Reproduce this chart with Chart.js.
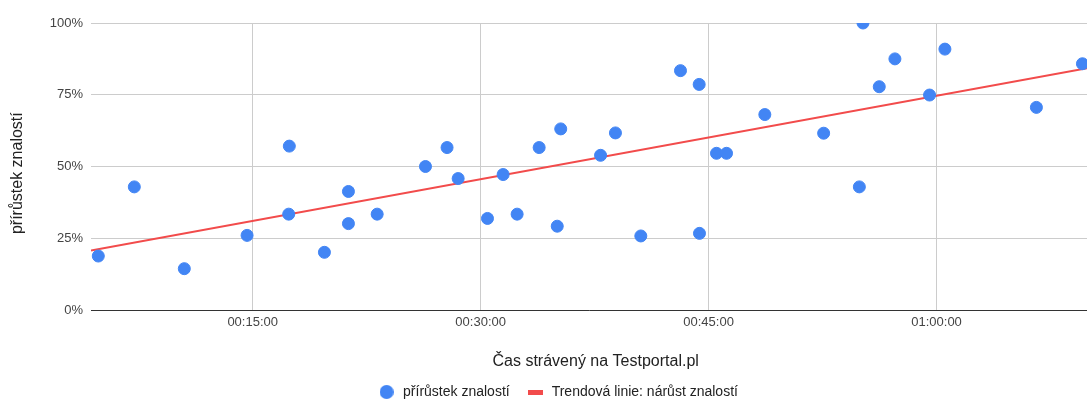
<!DOCTYPE html>
<html>
<head>
<meta charset="utf-8">
<script src="https://cdn.jsdelivr.net/npm/chart.js@4"></script>
<style>
  body { margin: 0; background: #fff; overflow: hidden; }
  #wrap { width: 1087px; height: 399px; position: relative; }
</style>
</head>
<body>
<div id="wrap"><canvas id="chartZnalosti"></canvas></div>
<script>
  // cas na Testportal.pl (minuty) a prirustek znalosti (%)
  var casMinuty = [4.84, 7.21, 10.5, 14.63, 17.41, 17.37, 19.72, 21.3, 21.3, 23.19,
    26.37, 27.79, 28.52, 30.45, 31.48, 32.4, 33.85, 35.27, 35.04, 37.89,
    38.87, 40.54, 43.15, 44.38, 44.4, 45.52, 46.18, 48.7, 52.57, 54.92,
    55.16, 56.23, 57.26, 59.54, 60.55, 66.57, 69.6];
  var prirustek = [18.8, 42.9, 14.4, 26.0, 57.1, 33.4, 20.1, 41.3, 30.1, 33.4,
    50.0, 56.6, 45.8, 31.9, 47.2, 33.4, 56.6, 63.1, 29.2, 53.9,
    61.7, 25.8, 83.4, 78.6, 26.7, 54.6, 54.6, 68.1, 61.6, 42.9,
    100, 77.8, 87.5, 74.9, 90.9, 70.6, 85.8];

  // trendova linie - konce
  var trendX = [4.36, 69.9];
  var trendY = [20.7, 84.2];

  var xTicks = [15, 30, 45, 60];
  var yTicks = [0, 25, 50, 75, 100];

  var modra = '#4285f4';
  var cervena = '#f24b4b';
  var nbsp = '\u00a0\u00a0\u00a0';

  function formatCas(m) {
    var h = Math.floor(m / 60);
    var mm = Math.round(m % 60);
    return String(h).padStart(2, '0') + ':' + String(mm).padStart(2, '0') + ':00';
  }

  // znacky do legendy
  var kolecko = document.createElement('canvas');
  kolecko.width = 14; kolecko.height = 14;
  var k = kolecko.getContext('2d');
  k.fillStyle = modra;
  k.beginPath(); k.arc(7, 7, 7, 0, Math.PI * 2); k.fill();

  var carka = document.createElement('canvas');
  carka.width = 15; carka.height = 5;
  var c = carka.getContext('2d');
  c.fillStyle = cervena;
  c.fillRect(0, 0, 15, 5);

  // legenda je v predloze trochu vpravo od stredu
  var posunLegendy = {
    id: 'posunLegendy',
    afterLayout: function (chart) {
      chart.legend.left += 14;
      chart.legend.right += 14;
    }
  };

  Chart.defaults.font.family = '"Liberation Sans", Arial, sans-serif';
  Chart.defaults.color = '#444';

  var ctx = document.getElementById('chartZnalosti');
  new Chart(ctx, {
    type: 'scatter',
    plugins: [posunLegendy],
    data: {
      datasets: [
        {
          label: 'přírůstek znalostí',
          data: casMinuty.map(function (x, i) { return { x: x, y: prirustek[i] }; }),
          backgroundColor: modra,
          borderColor: modra,
          pointRadius: 6,
          pointHoverRadius: 6,
          order: 1
        },
        {
          type: 'line',
          label: 'Trendová linie: nárůst znalostí',
          data: trendX.map(function (x, i) { return { x: x, y: trendY[i] }; }),
          borderColor: cervena,
          backgroundColor: cervena,
          borderWidth: 2,
          pointRadius: 0,
          fill: false,
          order: 2
        }
      ]
    },
    options: {
      responsive: true,
      maintainAspectRatio: false,
      animation: false,
      layout: { autoPadding: false, padding: { top: 23, left: 0, right: 0, bottom: -10 } },
      scales: {
        x: {
          type: 'linear',
          min: trendX[0],
          max: trendX[1],
          afterBuildTicks: function (scale) {
            scale.ticks = xTicks.map(function (v) { return { value: v }; });
          },
          afterFit: function (scale) { scale.height = 59; },
          ticks: {
            padding: 5,
            font: { size: 13 },
            color: '#444',
            callback: function (v) { return formatCas(v); }
          },
          grid: { color: '#cccccc', drawTicks: false },
          border: { display: true, color: '#333', width: 1 },
          title: {
            display: true,
            text: nbsp + 'Čas strávený na Testportal.pl',
            font: { size: 16 },
            color: '#222',
            padding: { top: 0, bottom: -2.6 }
          }
        },
        y: {
          min: 0,
          max: 100,
          afterBuildTicks: function (scale) {
            scale.ticks = yTicks.map(function (v) { return { value: v }; });
          },
          afterFit: function (scale) { scale.width = 91; },
          ticks: {
            padding: 8,
            font: { size: 13 },
            color: '#444',
            callback: function (v) { return v + '%'; }
          },
          grid: { color: '#cccccc', drawTicks: false },
          border: { display: false },
          title: {
            display: true,
            text: 'přírůstek znalostí' + nbsp,
            font: { size: 16 },
            color: '#222',
            padding: { top: 8.4, bottom: 0 }
          }
        }
      },
      plugins: {
        tooltip: { enabled: false },
        legend: {
          display: true,
          position: 'bottom',
          align: 'center',
          labels: {
            usePointStyle: true,
            pointStyleWidth: 19,
            boxHeight: 10,
            padding: 16,
            color: '#222',
            font: { size: 14 },
            generateLabels: function (chart) {
              return chart.data.datasets.map(function (ds, i) {
                return {
                  text: ds.label,
                  fillStyle: i === 0 ? modra : cervena,
                  strokeStyle: i === 0 ? modra : cervena,
                  lineWidth: 0,
                  pointStyle: i === 0 ? kolecko : carka,
                  datasetIndex: i,
                  fontColor: '#222'
                };
              });
            }
          }
        }
      }
    }
  });
</script>
</body>
</html>
